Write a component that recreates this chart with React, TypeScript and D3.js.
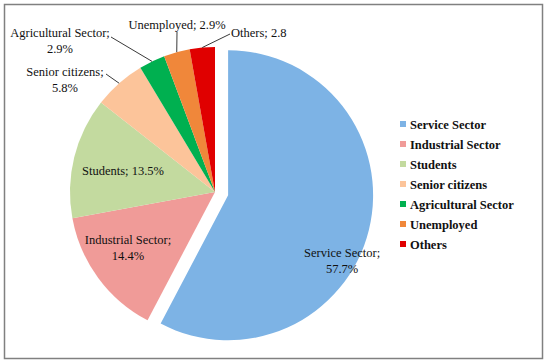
import React, { useRef, useEffect } from "react";
import * as d3 from "d3";

const categories = [
  "Service Sector",
  "Industrial Sector",
  "Students",
  "Senior citizens",
  "Agricultural Sector",
  "Unemployed",
  "Others",
];
const shares = [57.7, 14.4, 13.5, 5.8, 2.9, 2.9, 2.8];
const labelTexts = [
  ["Service Sector;", "57.7%"],
  ["Industrial Sector;", "14.4%"],
  ["Students; 13.5%"],
  ["Senior citizens;", "5.8%"],
  ["Agricultural Sector;", "2.9%"],
  ["Unemployed; 2.9%"],
  ["Others; 2.8"],
];
const colors = ["#7db3e5", "#f09b98", "#c3da9f", "#fcc49a", "#00b050", "#f0873a", "#e00000"];

const FONT = "'Liberation Serif', 'DejaVu Serif', serif";

// label placement relative to pie centre (dx, dy of first baseline), anchor, leader end
const labelLayout: Record<string, any> = {
  "Service Sector": { dx: 114, dy: 62, anchor: "middle" },
  "Industrial Sector": { dx: -87, dy: 52, anchor: "middle" },
  Students: { dx: -92, dy: -17, anchor: "middle" },
  "Senior citizens": { dx: -150, dy: -116, anchor: "middle", lx: -109, ly: -118 },
  "Agricultural Sector": { dx: -155, dy: -155, anchor: "middle", lx: -104, ly: -155 },
  Unemployed: { dx: -38, dy: -163, anchor: "middle", lx: -38, ly: -160 },
  Others: { dx: 16, dy: -155, anchor: "start", lx: 15, ly: -158 },
};

const App = () => {
  const divRef = useRef<HTMLDivElement>(null);

  useEffect(() => {
    const width = 550;
    const height = 364;
    const cx = 215;
    const cy = 192;
    const r = 145;
    const explode = 13.5;

    const root = d3.select(divRef.current);
    root.selectAll("*").remove();

    const svg = root
      .append("svg")
      .attr("width", width)
      .attr("height", height)
      .style("position", "absolute")
      .style("left", 0)
      .style("top", 0);

    svg
      .append("rect")
      .attr("x", 4.5)
      .attr("y", 4.5)
      .attr("width", 538)
      .attr("height", 354)
      .attr("fill", "white")
      .attr("stroke", "#808080")
      .attr("stroke-width", 1.5);

    const data = categories.map((c, i) => ({ name: c, value: shares[i], color: colors[i], label: labelTexts[i] }));

    const pie = d3
      .pie<any>()
      .sort(null)
      .value((d) => d.value)
      .startAngle(0)
      .endAngle(2 * Math.PI);
    const arcs = pie(data);

    const arc = d3.arc<any>().innerRadius(0).outerRadius(r);
    const edge = d3.arc<any>().innerRadius(r).outerRadius(r);

    const g = svg.append("g").attr("transform", `translate(${cx},${cy})`);

    const offset = (d: any) => {
      if (d.index !== 0) return [0, 0];
      const a = (d.startAngle + d.endAngle) / 2;
      return [Math.sin(a) * explode, -Math.cos(a) * explode];
    };

    g.selectAll("path.slice")
      .data(arcs)
      .enter()
      .append("path")
      .attr("class", "slice")
      .attr("d", arc)
      .attr("fill", (d) => d.data.color)
      .attr("transform", (d) => {
        const [ox, oy] = offset(d);
        return `translate(${ox},${oy})`;
      });

    // leader lines
    arcs.forEach((d) => {
      const lay = labelLayout[d.data.name];
      if (lay.lx === undefined) return;
      const [px, py] = edge.centroid(d);
      g.append("line")
        .attr("x1", px)
        .attr("y1", py)
        .attr("x2", lay.lx)
        .attr("y2", lay.ly)
        .attr("stroke", "#222")
        .attr("stroke-width", 0.9);
    });

    // data labels
    arcs.forEach((d) => {
      const lay = labelLayout[d.data.name];
      const [ox, oy] = offset(d);
      const t = g
        .append("text")
        .attr("text-anchor", lay.anchor)
        .attr("font-family", FONT)
        .attr("font-size", 12.5)
        .attr("fill", "#111");
      d.data.label.forEach((line: string, i: number) => {
        t.append("tspan")
          .attr("x", lay.dx + ox)
          .attr("y", lay.dy + oy + i * 16)
          .text(line);
      });
    });

    // legend
    const legend = svg.append("g").attr("transform", "translate(400,124)");
    const rows = legend
      .selectAll("g")
      .data(data)
      .enter()
      .append("g")
      .attr("transform", (d, i) => `translate(0,${i * 20})`);
    rows
      .append("rect")
      .attr("x", 0)
      .attr("y", -3)
      .attr("width", 6)
      .attr("height", 6)
      .attr("fill", (d) => d.color);
    rows
      .append("text")
      .attr("x", 10)
      .attr("y", 4.5)
      .attr("font-family", FONT)
      .attr("font-size", 12.5)
      .attr("font-weight", "bold")
      .attr("fill", "#111")
      .text((d) => d.name);
  }, []);

  return <div ref={divRef}></div>;
};

export default App;
